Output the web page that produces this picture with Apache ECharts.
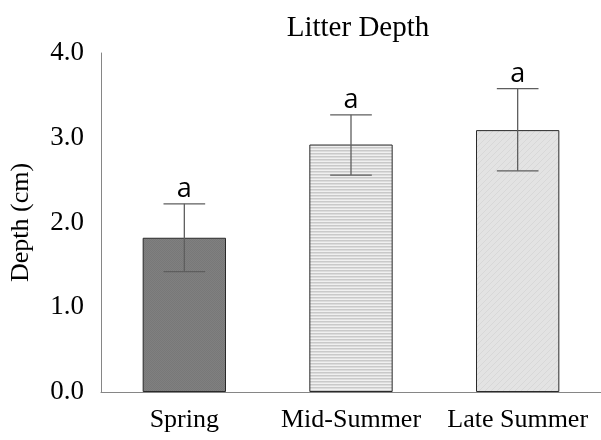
<!DOCTYPE html>
<html>
<head>
<meta charset="utf-8">
<script src="https://cdn.jsdelivr.net/npm/echarts@6/dist/echarts.min.js"></script>
<style>
  html, body { margin: 0; padding: 0; background: #fff; }
  #chart { width: 601px; height: 440px; }
</style>
</head>
<body>
<div id="chart"></div>
<script>
// Litter depth by season, with error bars and group letters
const categories = ['Spring', 'Mid-Summer', 'Late Summer'];
const depthMeans = [1.82, 2.92, 3.09];
const errLow = [1.42, 2.56, 2.61];
const errHigh = [2.22, 3.27, 3.58];
const groupLetters = ['a', 'a', 'a'];
const yTicks = [0, 1, 2, 3, 4];

// Fill textures for each bar
function makePattern(kind) {
  const c = document.createElement('canvas');
  const ctx = c.getContext('2d');
  if (kind === 'solid') {
    c.width = 2; c.height = 2;
    ctx.fillStyle = '#808080'; ctx.fillRect(0, 0, 2, 2);
    ctx.fillStyle = '#787878'; ctx.fillRect(0, 0, 1, 1); ctx.fillRect(1, 1, 1, 1);
  } else if (kind === 'hstripe') {
    c.width = 4; c.height = 3;
    ctx.fillStyle = '#f0f0f0'; ctx.fillRect(0, 0, 4, 3);
    ctx.fillStyle = '#c9c9c9'; ctx.fillRect(0, 0, 4, 1);
    ctx.fillStyle = '#dcdcdc'; ctx.fillRect(0, 1, 4, 1);
  } else {
    c.width = 6; c.height = 6;
    ctx.fillStyle = '#e3e3e3'; ctx.fillRect(0, 0, 6, 6);
    ctx.fillStyle = '#d8d8d8';
    for (let i = 0; i < 6; i++) ctx.fillRect((5 - i + 6) % 6, i, 1, 1);
  }
  return { image: c, repeat: 'repeat' };
}
const fills = [makePattern('solid'), makePattern('hstripe'), makePattern('diag')];

const chart = echarts.init(document.getElementById('chart'), null, { renderer: 'canvas' });

const serif = 'Liberation Serif';

chart.setOption({
  animation: false,
  title: {
    text: 'Litter Depth',
    left: 353, top: 9, textAlign: 'center',
    textStyle: { fontFamily: serif, fontSize: 29, fontWeight: 'normal', color: '#000' }
  },
  grid: { left: 100, top: 53, width: 508, height: 339 },
  xAxis: {
    type: 'category',
    data: categories,
    axisLine: { lineStyle: { color: '#868686', width: 1 } },
    axisTick: { show: false },
    axisLabel: {
      fontFamily: serif, fontSize: 26, color: '#000', margin: 15,
      interval: 0, hideOverlap: false
    }
  },
  yAxis: {
    type: 'value',
    min: yTicks[0], max: yTicks[yTicks.length - 1], interval: 1,
    name: 'Depth (cm)',
    nameLocation: 'middle',
    nameGap: 67,
    nameTextStyle: { fontFamily: serif, fontSize: 26, color: '#000' },
    axisLine: { show: true, lineStyle: { color: '#868686', width: 1 } },
    axisTick: { show: false },
    splitLine: { show: false },
    axisLabel: {
      fontFamily: serif, fontSize: 27, color: '#000', margin: 17,
      formatter: v => v.toFixed(1)
    }
  },
  series: [
    {
      type: 'bar',
      barWidth: '50%',
      data: depthMeans.map((v, i) => ({
        value: v,
        itemStyle: { color: fills[i], borderColor: '#2a2a2a', borderWidth: 1 }
      }))
    },
    {
      type: 'custom',
      data: categories.map((c, i) => [i, errLow[i], errHigh[i], groupLetters[i]]),
      renderItem: function (params, api) {
        const x = api.coord([api.value(0), 0])[0];
        const lo = api.coord([api.value(0), api.value(1)])[1];
        const hi = api.coord([api.value(0), api.value(2)])[1];
        const half = api.size([1, 0])[0] * 0.125;
        const style = { stroke: '#5e5e5e', lineWidth: 1.3 };
        return {
          type: 'group',
          children: [
            { type: 'line', shape: { x1: x, y1: lo, x2: x, y2: hi }, style },
            { type: 'line', shape: { x1: x - half, y1: lo, x2: x + half, y2: lo }, style },
            { type: 'line', shape: { x1: x - half, y1: hi, x2: x + half, y2: hi }, style },
            {
              type: 'text',
              style: {
                text: api.value(3), x: x, y: hi - 1,
                align: 'center', verticalAlign: 'bottom',
                font: '27px "Open Sans"', fill: '#000'
              }
            }
          ]
        };
      },
      z: 5
    }
  ]
});
</script>
</body>
</html>
